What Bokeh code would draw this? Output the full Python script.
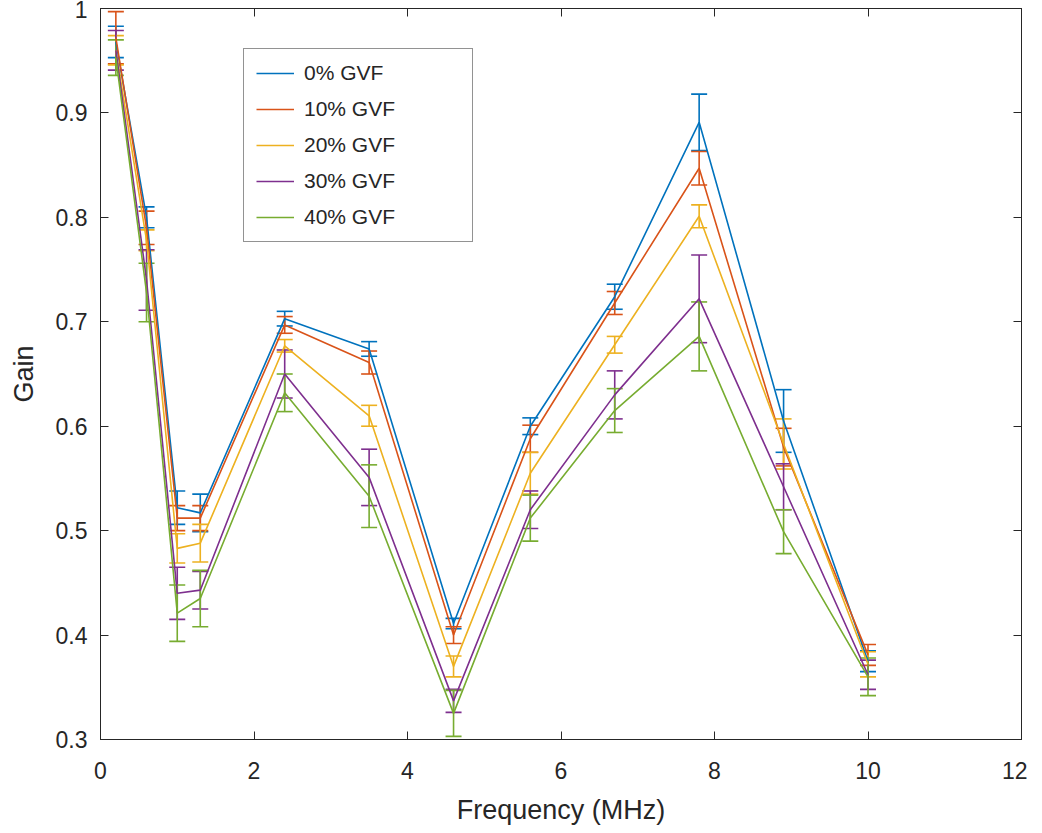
import numpy as np
from bokeh.plotting import figure
from bokeh.models import (ColumnDataSource, Whisker, TeeHead, Range1d, FixedTicker,
                          LinearAxis, CustomJSTickFormatter)
from bokeh.embed import file_html
from bokeh.resources import INLINE

freq = [0.2, 0.6, 1.0, 1.3, 2.4, 3.5, 4.6, 5.6, 6.7, 7.8, 8.9, 10.0]

labels = ["0% GVF", "10% GVF", "20% GVF", "30% GVF", "40% GVF"]
colors = ["#0072BD", "#D95319", "#EDB120", "#7E2F8E", "#77AC30"]

gain_0 = [0.968, 0.800, 0.522, 0.517, 0.703, 0.674, 0.411, 0.600, 0.724, 0.891, 0.605, 0.375]
err_0 = [0.015, 0.010, 0.016, 0.018, 0.007, 0.007, 0.005, 0.008, 0.012, 0.027, 0.030, 0.010]

gain_10 = [0.972, 0.790, 0.512, 0.512, 0.697, 0.661, 0.400, 0.588, 0.718, 0.847, 0.580, 0.381]
err_10 = [0.025, 0.016, 0.012, 0.012, 0.008, 0.011, 0.008, 0.013, 0.011, 0.016, 0.018, 0.010]

gain_20 = [0.960, 0.778, 0.483, 0.488, 0.677, 0.610, 0.370, 0.555, 0.678, 0.801, 0.583, 0.372]
err_20 = [0.014, 0.010, 0.014, 0.018, 0.006, 0.010, 0.010, 0.020, 0.008, 0.011, 0.024, 0.012]

gain_30 = [0.960, 0.740, 0.440, 0.443, 0.650, 0.551, 0.337, 0.520, 0.630, 0.722, 0.542, 0.362]
err_30 = [0.019, 0.029, 0.025, 0.018, 0.023, 0.027, 0.011, 0.018, 0.023, 0.042, 0.022, 0.014]

gain_40 = [0.953, 0.728, 0.421, 0.435, 0.632, 0.533, 0.325, 0.512, 0.615, 0.686, 0.499, 0.360]
err_40 = [0.017, 0.028, 0.027, 0.027, 0.018, 0.030, 0.022, 0.022, 0.021, 0.033, 0.021, 0.018]

x_ticks = [0, 2, 4, 6, 8, 10, 12]
y_ticks = [0.3, 0.4, 0.5, 0.6, 0.7, 0.8, 0.9, 1.0]

gains = [gain_0, gain_10, gain_20, gain_30, gain_40]
errs = [err_0, err_10, err_20, err_30, err_40]

FONT = "Liberation Sans"
TXT = "#262626"

p = figure(width=1030, height=825, output_backend="svg", toolbar_location=None,
           x_range=Range1d(0, 12), y_range=Range1d(0.3, 1.0),
           frame_width=921, frame_height=731,
           min_border_left=100, min_border_top=8, min_border_right=6, min_border_bottom=10)
p.background_fill_color = "white"
p.border_fill_color = "white"
p.outline_line_color = TXT
p.outline_line_width = 1
p.xgrid.visible = False
p.ygrid.visible = False

fmt = CustomJSTickFormatter(code="return String(Math.round(tick*10)/10)")
blank = CustomJSTickFormatter(code="return ''")

for ax in p.xaxis:
    ax.ticker = FixedTicker(ticks=x_ticks)
    ax.axis_label = "Frequency (MHz)"
for ax in p.yaxis:
    ax.ticker = FixedTicker(ticks=y_ticks)
    ax.formatter = fmt
    ax.axis_label = "Gain"

for ax in list(p.xaxis) + list(p.yaxis):
    ax.major_tick_in = 8
    ax.major_tick_out = 0
    ax.minor_tick_line_color = None
    ax.axis_line_color = TXT
    ax.major_tick_line_color = TXT
    ax.major_label_text_font = FONT
    ax.major_label_text_font_size = "23px"
    ax.major_label_text_color = TXT
    ax.axis_label_text_font = FONT
    ax.axis_label_text_font_size = "27px"
    ax.axis_label_text_font_style = "normal"
    ax.axis_label_text_color = TXT

p.xaxis.major_label_standoff = 22
p.xaxis.axis_label_standoff = 13
p.yaxis.major_label_standoff = 13
p.yaxis.axis_label_standoff = 14

top = LinearAxis(ticker=FixedTicker(ticks=x_ticks), formatter=blank,
                 major_label_standoff=0, major_tick_in=8, major_tick_out=0,
                 minor_tick_line_color=None, axis_line_color=TXT, major_tick_line_color=TXT)
right = LinearAxis(ticker=FixedTicker(ticks=y_ticks), formatter=blank,
                   major_label_standoff=0, major_tick_in=8, major_tick_out=0,
                   minor_tick_line_color=None, axis_line_color=TXT, major_tick_line_color=TXT)
p.add_layout(top, "above")
p.add_layout(right, "right")

f = np.array(freq)
for g, e, c, lab in zip(gains, errs, colors, labels):
    g = np.array(g)
    e = np.array(e)
    src = ColumnDataSource(dict(x=f, y=g, upper=g + e, lower=g - e))
    p.line("x", "y", source=src, line_color=c, line_width=1.6, legend_label=lab)
    w = Whisker(source=src, base="x", upper="upper", lower="lower",
                line_color=c, line_width=1.6,
                upper_head=TeeHead(size=16, line_color=c, line_width=1.6),
                lower_head=TeeHead(size=16, line_color=c, line_width=1.6))
    p.add_layout(w)

lg = p.legend[0]
lg.location = (143, 497)
lg.label_text_font = FONT
lg.label_text_font_size = "21px"
lg.label_text_color = TXT
lg.border_line_color = TXT
lg.border_line_width = 1
lg.background_fill_color = "white"
lg.background_fill_alpha = 1
lg.glyph_width = 38
lg.glyph_height = 24
lg.label_height = 24
lg.label_width = 156
lg.label_standoff = 10
lg.spacing = 12
lg.padding = 12
lg.margin = 0

open("out.html", "w").write(file_html(p, INLINE))
